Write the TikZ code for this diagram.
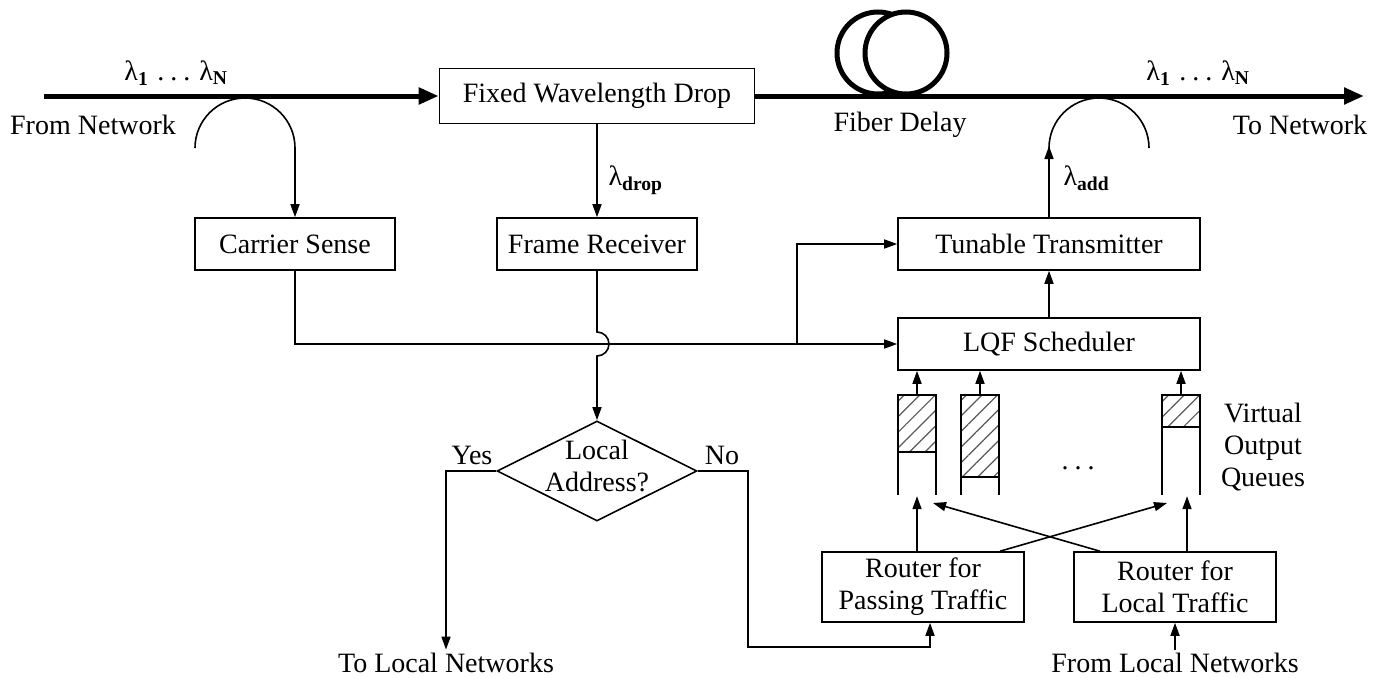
\documentclass[tikz,border=0pt]{standalone}
\usepackage{fontspec}
\setmainfont{Liberation Serif}
\usetikzlibrary{arrows.meta,shapes.geometric,patterns.meta}

\newcommand{\wavedots}{\hspace{9pt}.\hspace{6pt}.\hspace{6pt}.\hspace{9pt}}

\begin{document}
\begin{tikzpicture}[x=1pt, y=-1pt, font=\fontsize{28}{32}\selectfont,
    box_style/.style={draw, line width=1.6pt, minimum height=52pt, inner sep=0pt, align=center},
    diamond_style/.style={diamond, draw, line width=1.6pt, minimum width=200pt, minimum height=100pt, inner sep=0pt},
    line_style/.style={draw, line width=1.6pt},
    arrow_style/.style={draw, line width=1.6pt, -{Triangle[length=13pt,width=9pt]}},
    fiber_style/.style={draw, line width=5pt, -{Triangle[length=20pt,width=16pt]}},
    coil_style/.style={draw, line width=5pt, fill=white},
    hatch_style/.style={pattern={Lines[angle=45,distance=11pt,line width=1.2pt]}, pattern color=black!65}]

    \useasboundingbox (0,0) rectangle (1380,677);

    \node[box_style, minimum width=315pt, minimum height=55pt] (drop) at (597,96) {Fixed Wavelength Drop};
    \node[box_style, minimum width=200pt] (sense) at (295,244) {Carrier Sense};
    \node[box_style, minimum width=200pt] (receiver) at (597,244) {Frame Receiver};
    \node[box_style, minimum width=302pt] (transmitter) at (1049,244) {Tunable Transmitter};
    \node[box_style, minimum width=302pt] (scheduler) at (1049,344) {LQF Scheduler};
    \node[diamond_style, label={[align=center, yshift=5pt]center:{Local\\Address?}}] (local) at (597,471) {};
    \node[box_style, minimum width=202pt, minimum height=70pt] (passing) at (923,587) {Router for\\Passing Traffic};
    \node[box_style, minimum width=202pt, minimum height=70pt] (localr) at (1175,587) {Router for\\Local Traffic};

    \node (from_net) at (93,125) {From Network};
    \node (to_net) at (1300,125) {To Network};
    \node (fiber_delay) at (900,125) {Fiber Delay};
    \node (lambda_in) at (176,73) {λ\textsubscript{\textbf{1}}\wavedots λ\textsubscript{\textbf{N}}};
    \node (lambda_out) at (1198,73) {λ\textsubscript{\textbf{1}}\wavedots λ\textsubscript{\textbf{N}}};
    \node[anchor=west] (lambda_drop) at (605,180) {λ\textsubscript{\textbf{drop}}};
    \node[anchor=west] (lambda_add) at (1060,178) {λ\textsubscript{\textbf{add}}};
    \node (yes) at (472,455) {Yes};
    \node (no) at (722,455) {No};
    \node (to_local) at (446,663) {To Local Networks};
    \node (from_local) at (1175,663) {From Local Networks};
    \node[align=center] (voq) at (1263,447) {Virtual\\Output\\Queues};
    \node (dots) at (1078,468) {.\hspace{6pt}.\hspace{6pt}.};

    \coordinate (in_start) at (44,96);
    \coordinate (out_end) at (1364,96);
    \coordinate (tap_in) at (195,148);
    \coordinate (tap_out) at (1149,148);
    \coordinate (add_in) at (1049,146);
    \coordinate (branch) at (797,344);
    \coordinate (no_turn) at (748,647);

    \draw[coil_style] (878,53) circle (41pt);
    \draw[coil_style] (906,53) circle (41pt);
    \draw[fiber_style] (in_start) -- (drop.west);
    \draw[fiber_style] (drop.east) -- (out_end);

    \draw[arrow_style] (tap_in) arc[start angle=180, end angle=0, radius=50pt] -- (sense.north);
    \draw[line_style] (tap_out) arc[start angle=0, end angle=180, radius=50pt];
    \draw[arrow_style] (transmitter.north) -- (add_in);
    \draw[arrow_style] (drop.south) -- (receiver.north);
    \draw[arrow_style] (sense.south) |- (scheduler.west);
    \draw[arrow_style] (branch) |- (transmitter.west);
    \draw[arrow_style] (scheduler.north) -- (transmitter.south);
    \draw[arrow_style] (receiver.south) -- (597,332) arc[start angle=90, end angle=-90, radius=12pt] -- (local.north);
    \draw[arrow_style] (local.west) -| (to_local.north);
    \draw[arrow_style] (local.east) -| (no_turn) -| ([xshift=7pt]passing.south);
    \draw[arrow_style] (from_local.north) -- (localr.south);

    \foreach \qx/\qh [count=\qi] in {898/452, 961/477, 1162/427} {
        \fill[hatch_style] (\qx,395) rectangle (\qx+38,\qh);
        \draw[line_style] (\qx,495) -- (\qx,395) -- (\qx+38,395) -- (\qx+38,495);
        \draw[line_style] (\qx,\qh) -- (\qx+38,\qh);
        \coordinate (q\qi) at (\qx+19,395);
        \draw[arrow_style] (q\qi) -- (q\qi |- scheduler.south);
    }

    \draw[arrow_style] ([xshift=-6pt]passing.north) -- ++(0,-55);
    \draw[arrow_style] ([xshift=77pt]passing.north) -- (1167,503);
    \draw[arrow_style] ([xshift=-75pt]localr.north) -- (933,503);
    \draw[arrow_style] ([xshift=12pt]localr.north) -- ++(0,-55);
\end{tikzpicture}
\end{document}
